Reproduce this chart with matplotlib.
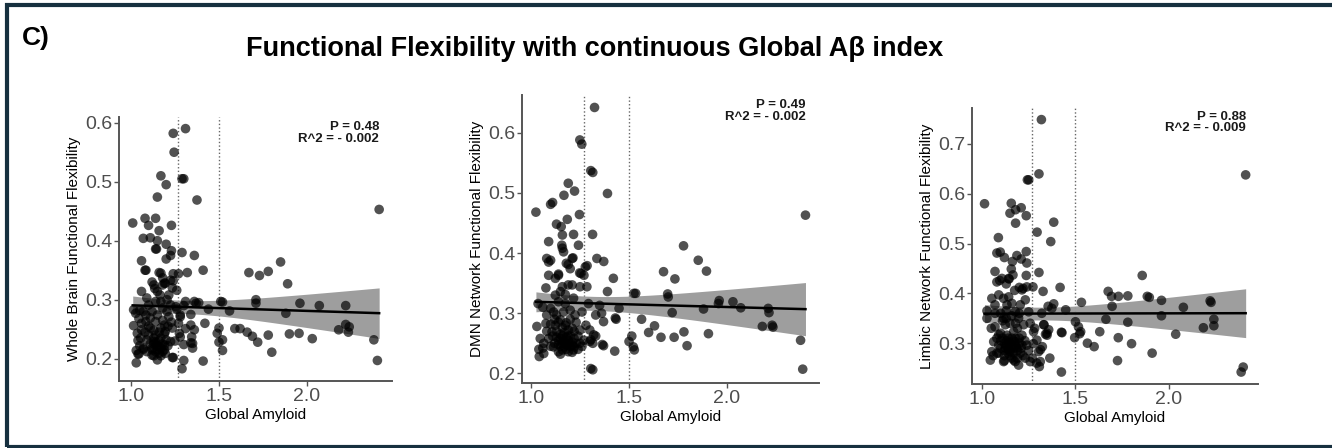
import numpy as np
import matplotlib
matplotlib.use("Agg")
import matplotlib.pyplot as plt
from matplotlib.patches import Rectangle

plt.rcParams['font.family'] = ['Liberation Sans', 'DejaVu Sans']

# ---------------- data ----------------
title = "Functional Flexibility with continuous Global A\u03b2 index"
panel_label = "C)"
x_label = "Global Amyloid"
y_labels = ["Whole Brain Functional Flexibility",
            "DMN Network Functional Flexibility",
            "Limbic Network Functional Flexibility"]
p_texts = ["P = 0.48", "P = 0.49", "P = 0.88"]
r2_texts = ["R^2 = - 0.002", "R^2 = - 0.002", "R^2 = - 0.009"]
cutoffs = [1.27, 1.50]
x_ticks = [1.0, 1.5, 2.0]
y_ticks = [[0.2, 0.3, 0.4, 0.5, 0.6],
           [0.2, 0.3, 0.4, 0.5, 0.6],
           [0.3, 0.4, 0.5, 0.6, 0.7]]

whole_brain = [
    (1.01,0.43),(1.31,0.59),(1.24,0.582),(1.245,0.55),(1.29,0.505),(1.30,0.505),(1.17,0.51),(1.20,0.495),
    (1.15,0.474),(1.375,0.469),(2.41,0.453),(1.08,0.438),(1.14,0.438),(1.10,0.426),(1.23,0.426),(1.16,0.417),
    (1.07,0.404),(1.11,0.405),(1.15,0.40),(1.20,0.394),(1.14,0.386),(1.145,0.386),(1.23,0.383),(1.225,0.375),
    (1.29,0.38),(1.36,0.375),(1.20,0.369),(1.06,0.366),(1.08,0.35),(1.085,0.35),(1.41,0.35),(1.32,0.346),
    (1.27,0.344),(1.24,0.344),(1.67,0.346),(1.73,0.341),(1.78,0.348),(1.85,0.364),(1.16,0.346),(1.17,0.345),
    (1.12,0.33),(1.19,0.328),(1.24,0.332),(1.89,0.327),
    (1.31,0.297),(1.36,0.297),(1.385,0.295),(1.30,0.29),(1.51,0.297),(1.52,0.296),(1.71,0.30),(1.71,0.294),
    (1.96,0.294),(2.07,0.29),(2.22,0.29),(1.88,0.277),(1.44,0.284),(1.56,0.281),(1.015,0.283),(1.05,0.282),
    (1.26,0.284),(1.34,0.275),(1.28,0.274),(1.015,0.256),(1.42,0.26),(2.22,0.258),(2.24,0.254),(2.18,0.249),
    (2.235,0.245),(1.59,0.251),(1.62,0.251),(1.66,0.245),(1.69,0.238),(1.72,0.228),(1.78,0.24),(1.90,0.242),
    (1.955,0.243),(2.03,0.234),(1.50,0.252),(1.49,0.243),(1.52,0.232),(1.52,0.214),(1.50,0.228),(1.80,0.211),
    (2.38,0.232),(2.40,0.197),(1.41,0.196),(1.30,0.197),(1.24,0.202),(1.29,0.183),(1.03,0.193),(1.30,0.224),
    (1.35,0.218),(1.34,0.227),(1.04,0.231),(1.03,0.214),(1.04,0.208),(1.07,0.216),(1.13,0.205),(1.15,0.198),
    (1.036,0.243),(1.045,0.208),(1.085,0.263),(1.11,0.269),(1.14,0.263),(1.18,0.265),(1.215,0.271),(1.06,0.249),
    (1.11,0.252),(1.17,0.252),(1.195,0.246),(1.235,0.252),(1.275,0.243),(1.055,0.235),(1.09,0.232),(1.13,0.229),
    (1.17,0.235),(1.19,0.223),(1.225,0.229),(1.07,0.218),(1.12,0.218),(1.15,0.215),(1.16,0.209),(1.195,0.209),
    (1.12,0.206),(1.235,0.202),(1.10,0.24),(1.19,0.257),(1.15,0.274),(1.205,0.28),(1.255,0.288),(1.17,0.297),
    (1.225,0.291),(1.135,0.319),(1.195,0.328),(1.215,0.308),(1.085,0.274),(1.045,0.268),(1.027,0.277),(1.06,0.314),
    (1.09,0.303),(1.13,0.325),(1.18,0.337),(1.18,0.325),(1.15,0.314),(1.165,0.308),(1.14,0.297),(1.10,0.291),
    (1.07,0.28),(1.12,0.28),(1.18,0.286),(1.205,0.30),(1.235,0.32),(1.225,0.333),(1.26,0.316),(1.13,0.225),
    (1.16,0.22),(1.18,0.212),(1.14,0.24),(1.16,0.245),(1.21,0.255),
    (1.28,0.271),(1.31,0.251),(1.34,0.257),(1.36,0.249),(1.27,0.26),(1.28,0.237),(1.345,0.237),(1.35,0.226),
    (1.37,0.294),
    (1.12,0.215),(1.14,0.212),(1.15,0.222),(1.17,0.218),(1.18,0.225),(1.16,0.23),(1.13,0.235),(1.19,0.215),
    (1.20,0.232),(1.11,0.225),(1.17,0.205),(1.14,0.228),(1.21,0.222),(1.08,0.245),(1.10,0.255),(1.06,0.26),
    (1.23,0.262),(1.25,0.23),(1.13,0.248),(1.19,0.242),(1.05,0.222),(1.09,0.212),
]

dmn = [
    (1.025,0.468),(1.324,0.642),(1.249,0.588),(1.259,0.581),(1.305,0.537),(1.315,0.534),(1.19,0.516),(1.222,0.503),
    (1.168,0.496),(1.39,0.499),(1.10,0.481),(1.11,0.484),(2.40,0.463),(1.247,0.464),(1.185,0.456),(1.13,0.448),
    (1.154,0.444),(1.16,0.43),(1.217,0.431),(1.314,0.431),(1.09,0.419),(1.157,0.413),(1.242,0.413),(1.166,0.402),
    (1.08,0.391),(1.10,0.388),(1.214,0.392),(1.286,0.379),(1.336,0.391),(1.371,0.386),(1.18,0.383),(1.19,0.381),
    (1.778,0.412),(1.853,0.388),(1.895,0.37),(1.676,0.369),(1.734,0.357),(1.42,0.358),(1.14,0.365),(1.248,0.367),
    (1.255,0.366),(1.39,0.336),(1.525,0.333),(1.534,0.333),(1.697,0.332),(1.70,0.327),(1.96,0.321),(2.03,0.319),
    (1.956,0.316),(2.07,0.309),(1.88,0.307),(2.21,0.308),(2.214,0.301),(1.72,0.301),(1.449,0.308),(1.564,0.29),
    (1.434,0.29),(2.18,0.278),(2.23,0.28),(2.234,0.277),(1.63,0.279),(1.60,0.268),(1.663,0.26),(1.73,0.26),
    (1.78,0.269),(1.905,0.266),(1.796,0.246),(1.514,0.262),(1.50,0.253),(1.522,0.244),(1.527,0.239),(1.427,0.237),
    (1.364,0.248),(1.37,0.246),(1.33,0.262),(1.305,0.256),(1.315,0.25),(1.305,0.208),(1.315,0.206),(2.375,0.255),
    (2.386,0.207),
    (1.036,0.316),(1.03,0.278),(1.047,0.258),(1.042,0.228),(1.065,0.233),(1.076,0.342),(1.09,0.385),(1.124,0.358),
    (1.14,0.363),(1.10,0.308),(1.08,0.297),(1.115,0.302),(1.076,0.283),(1.107,0.269),(1.065,0.25),(1.09,0.258),
    (1.115,0.244),(1.14,0.236),(1.124,0.33),(1.14,0.319),(1.15,0.336),(1.16,0.344),(1.175,0.331),(1.19,0.347),
    (1.21,0.347),(1.25,0.344),(1.20,0.374),(1.21,0.391),(1.13,0.297),(1.15,0.289),(1.166,0.302),(1.175,0.28),
    (1.19,0.272),(1.21,0.275),(1.225,0.297),(1.25,0.272),(1.26,0.302),(1.28,0.28),(1.166,0.253),(1.183,0.247),
    (1.16,0.239),(1.21,0.247),(1.217,0.239),(1.22,0.244),(1.25,0.25),(1.15,0.258),(1.124,0.28),(1.175,0.316),
    (1.20,0.305),(1.217,0.325),(1.293,0.316),(1.30,0.272),(1.30,0.253),(1.32,0.264),(1.33,0.297),(1.35,0.313),
    (1.36,0.30),(1.37,0.286),(1.43,0.292),(1.285,0.344),(1.27,0.363),(1.277,0.377),(1.16,0.408),(1.09,0.363),
    (1.18,0.26),(1.20,0.262),(1.13,0.27),(1.23,0.285),(1.10,0.245),(1.19,0.236),(1.24,0.24),
    (1.12,0.25),(1.14,0.248),(1.15,0.245),(1.16,0.25),(1.17,0.244),(1.18,0.25),(1.19,0.255),(1.20,0.245),
    (1.21,0.252),(1.13,0.26),(1.15,0.265),(1.17,0.268),(1.19,0.262),(1.14,0.255),(1.16,0.262),(1.18,0.24),
    (1.22,0.258),(1.23,0.25),(1.11,0.262),(1.12,0.29),(1.14,0.285),(1.16,0.276),(1.18,0.284),(1.20,0.29),
    (1.22,0.27),(1.24,0.262),(1.06,0.31),(1.08,0.27),(1.10,0.282),(1.04,0.24),(1.06,0.242),(1.15,0.232),
    (1.21,0.235),(1.26,0.245),(1.27,0.255),
]

limbic = [
    (1.014,0.58),(1.318,0.749),(1.305,0.64),(2.41,0.638),(1.243,0.628),(1.25,0.628),(1.157,0.581),(1.18,0.568),
    (1.15,0.561),(1.21,0.572),(1.18,0.541),(1.237,0.556),(1.384,0.543),(1.088,0.512),(1.295,0.523),(1.368,0.504),
    (1.08,0.481),(1.098,0.483),(1.12,0.472),(1.237,0.484),(1.187,0.476),(1.21,0.469),(1.163,0.464),(1.24,0.461),
    (1.157,0.449),(1.166,0.437),(1.07,0.444),(1.237,0.436),(1.305,0.442),(1.857,0.436),(1.095,0.426),(1.145,0.429),
    (1.13,0.419),(1.418,0.412),(1.175,0.406),(1.20,0.412),(1.22,0.41),(1.273,0.413),(1.327,0.404),(1.675,0.404),
    (1.693,0.394),(1.73,0.394),(1.78,0.395),(1.884,0.394),(1.895,0.392),(1.96,0.386),(2.22,0.385),(2.225,0.382),
    (1.532,0.382),(2.077,0.372),(1.696,0.374),(1.384,0.379),(1.354,0.374),(1.448,0.367),(1.96,0.355),(1.663,0.348),
    (2.24,0.348),(2.24,0.335),(1.78,0.342),(1.50,0.343),(1.516,0.333),(1.528,0.323),(1.523,0.319),(2.184,0.331),
    (1.332,0.337),(1.348,0.32),(1.34,0.318),(1.425,0.322),(1.63,0.323),(2.036,0.318),(1.496,0.311),(1.729,0.311),
    (1.282,0.33),(1.564,0.30),(1.60,0.293),(1.80,0.299),(1.91,0.28),(1.725,0.265),(1.275,0.299),(1.323,0.293),
    (1.313,0.287),(1.363,0.27),(1.293,0.26),(1.307,0.253),(1.425,0.242),(2.397,0.252),(2.386,0.242),
    (1.027,0.365),(1.027,0.35),(1.053,0.39),(1.07,0.377),(1.09,0.397),(1.08,0.423),(1.107,0.43),(1.143,0.43),
    (1.07,0.333),(1.09,0.317),(1.063,0.303),(1.09,0.296),(1.053,0.283),(1.045,0.266),(1.08,0.28),(1.116,0.263),
    (1.116,0.39),(1.134,0.377),(1.143,0.393),(1.16,0.38),(1.178,0.363),(1.116,0.35),(1.125,0.337),(1.15,0.34),
    (1.17,0.323),(1.134,0.316),(1.16,0.31),(1.143,0.30),(1.178,0.303),(1.125,0.29),(1.15,0.283),(1.187,0.29),
    (1.214,0.296),(1.17,0.266),(1.205,0.28),(1.232,0.27),(1.214,0.316),(1.223,0.337),(1.196,0.35),(1.205,0.377),
    (1.232,0.387),(1.214,0.407),(1.24,0.413),(1.25,0.363),(1.258,0.34),(1.276,0.323),(1.294,0.306),(1.303,0.283),
    (1.312,0.263),(1.33,0.337),(1.348,0.316),(1.357,0.327),(1.32,0.36),(1.374,0.37),(1.428,0.321),(1.258,0.263),
    (1.178,0.263),(1.24,0.296),(1.196,0.256),(1.10,0.36),(1.13,0.365),(1.16,0.355),(1.19,0.33),(1.14,0.31),
    (1.20,0.30),(1.10,0.305),(1.17,0.29),(1.12,0.275),
    (1.10,0.29),(1.12,0.285),(1.13,0.295),(1.14,0.288),(1.15,0.30),(1.16,0.292),(1.17,0.305),(1.18,0.295),
    (1.19,0.285),(1.20,0.31),(1.11,0.31),(1.13,0.305),(1.15,0.275),(1.17,0.28),(1.12,0.30),(1.14,0.28),
    (1.16,0.27),(1.18,0.31),(1.21,0.29),(1.10,0.32),(1.09,0.28),(1.06,0.275),(1.05,0.33),(1.08,0.31),
    (1.22,0.275),(1.23,0.305),(1.12,0.265),(1.19,0.27),(1.25,0.285),(1.27,0.27),(1.13,0.35),(1.11,0.345),
    (1.18,0.34),(1.20,0.36),(1.07,0.36),
]

datasets = [whole_brain, dmn, limbic]

# ---------------- layout ----------------
W, H = 1332, 448
fig = plt.figure(figsize=(W / 100, H / 100), dpi=100)
fig.patch.set_facecolor('white')

def fr(left, top, right, bottom):
    return [left / W, (H - bottom) / H, (right - left) / W, (bottom - top) / H]

axes_px = [(119, 117, 392, 381), (522, 95, 819, 383), (972, 108, 1258, 384)]
xlims = [(0.932, 2.483), (0.954, 2.469), (0.947, 2.476)]
ylims = [(0.1622, 0.6097), (0.184, 0.6627), (0.218, 0.7723)]
ann_xy = [(0.952, 0.985), (0.956, 0.985), (0.958, 0.99)]

for i, data in enumerate(datasets):
    ax = fig.add_axes(fr(*axes_px[i]))
    arr = np.array(data)
    x, y = arr[:, 0], arr[:, 1]

    # linear fit + 95% CI
    b1, b0 = np.polyfit(x, y, 1)
    n = len(x)
    xs = np.linspace(x.min(), x.max(), 100)
    yhat = b0 + b1 * xs
    resid = y - (b0 + b1 * x)
    s = np.sqrt(np.sum(resid ** 2) / (n - 2))
    sxx = np.sum((x - x.mean()) ** 2)
    se = s * np.sqrt(1.0 / n + (xs - x.mean()) ** 2 / sxx)
    tcrit = 1.972
    ax.fill_between(xs, yhat - tcrit * se, yhat + tcrit * se, color='#999999',
                    alpha=0.95, lw=0, zorder=1)

    ax.scatter(x, y, s=48, color='black', alpha=0.68, edgecolors='none', zorder=2)
    ax.plot(xs, yhat, color='black', lw=1.8, zorder=3)

    for c in cutoffs:
        ax.axvline(c, color='#666666', lw=1.0, ls=(0, (1, 1.6)), zorder=0.5)

    ax.set_xlim(*xlims[i])
    ax.set_ylim(*ylims[i])
    ax.set_xticks(x_ticks)
    ax.set_xticklabels([f"{t:.1f}" for t in x_ticks])
    ax.set_yticks(y_ticks[i])
    ax.set_yticklabels([f"{t:.1f}" for t in y_ticks[i]])
    for sp in ['top', 'right']:
        ax.spines[sp].set_visible(False)
    for sp in ['left', 'bottom']:
        ax.spines[sp].set_color('#555555')
        ax.spines[sp].set_linewidth(1.4)
    ax.tick_params(axis='both', colors='#555555', labelcolor='#4d4d4d',
                   labelsize=14, length=3.5, width=1.0, pad=1.5)
    ax.set_xlabel(x_label, fontsize=11, color='black', labelpad=2)
    ax.set_ylabel(y_labels[i], fontsize=11, color='black', labelpad=3)

    ax.text(ann_xy[i][0], ann_xy[i][1], p_texts[i] + "\n" + r2_texts[i],
            transform=ax.transAxes, ha='right', va='top', fontsize=9.5,
            fontweight='bold', color='#1a1a1a', linespacing=0.95)

fig.text(595 / W, 1 - 49 / H, title, ha='center', va='center',
         fontsize=19.5, fontweight='bold', color='black')
fig.text(22 / W, 1 - 38 / H, panel_label, ha='left', va='center',
         fontsize=19, fontweight='bold', color='black')

# dark frame
frame = Rectangle((6.5 / W, 1.5 / H), 2.0, (H - 1.5 - 5.5) / H, transform=fig.transFigure,
                  fill=False, edgecolor='#17303f', lw=3.0, zorder=10)
fig.patches.append(frame)

fig.savefig("out.png", dpi=100, facecolor='white')
